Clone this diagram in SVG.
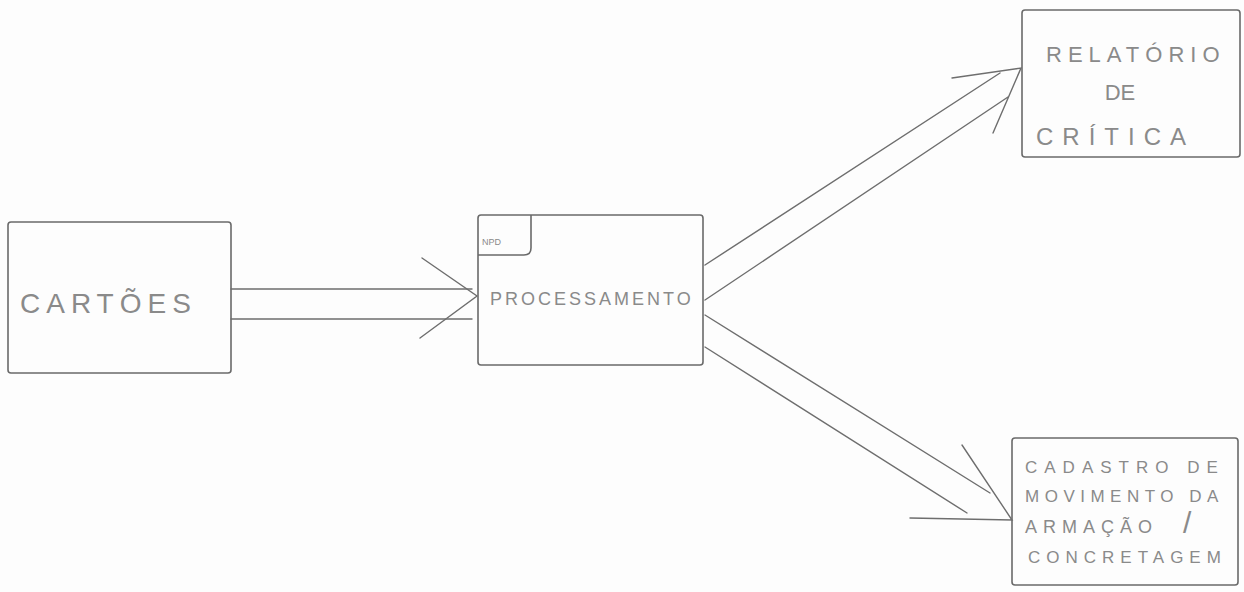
<svg xmlns="http://www.w3.org/2000/svg" width="1244" height="592" viewBox="0 0 1244 592">
<style>
.box{fill:none;stroke:#6a6a6a;stroke-width:1.6;}
.ln{fill:none;stroke:#6e6e6e;stroke-width:1.4;stroke-linecap:round;}
.t{font-family:"Liberation Sans",Arial,sans-serif;fill:#8a8a8a;font-weight:normal;}
</style>
<rect width="1244" height="592" fill="#fdfdfd"/>
<g id="cartoes">
<rect class="box" x="8" y="222" width="223" height="151" rx="3"/>
<text class="t" x="20" y="313" font-size="28" letter-spacing="6">CARTÕES</text>
</g>
<g id="processamento">
<rect class="box" x="478" y="215" width="225" height="150" rx="3"/>
<path class="box" d="M478 255 H524 Q531 255 531 248 V215"/>
<text class="t" x="482" y="245" font-size="9">NPD</text>
<text class="t" x="490" y="305" font-size="18" letter-spacing="3">PROCESSAMENTO</text>
</g>
<g id="relatorio">
<rect class="box" x="1022" y="10" width="218" height="147" rx="3"/>
<text class="t" x="1046" y="62" font-size="22" letter-spacing="6">RELATÓRIO</text>
<text class="t" x="1120" y="100" font-size="22" text-anchor="middle">DE</text>
<text class="t" x="1036" y="145" font-size="24" letter-spacing="9">CRÍTICA</text>
</g>
<g id="cadastro">
<rect class="box" x="1012" y="438" width="226" height="147" rx="3"/>
<text class="t" x="1025" y="473" font-size="17" letter-spacing="7">CADASTRO DE</text>
<text class="t" x="1025" y="502" font-size="17" letter-spacing="5.5">MOVIMENTO DA</text>
<text class="t" x="1025" y="533" font-size="18" letter-spacing="6">ARMAÇÃO <tspan font-size="30" dx="14">/</tspan></text>
<text class="t" x="1028" y="563" font-size="17" letter-spacing="6">CONCRETAGEM</text>
</g>
<g id="connectors">
<line class="ln" x1="231" y1="289" x2="472" y2="289"/>
<line class="ln" x1="231" y1="319" x2="472" y2="319"/>
<polyline class="ln" points="422,258 477,296 420,338"/>
<line class="ln" x1="705" y1="265" x2="1000" y2="73"/>
<line class="ln" x1="705" y1="300" x2="1008" y2="97"/>
<polyline class="ln" points="952,78 1021,68 993,133"/>
<line class="ln" x1="705" y1="315" x2="990" y2="493"/>
<line class="ln" x1="705" y1="347" x2="967" y2="513"/>
<polyline class="ln" points="962,445 1012,520 910,518"/>
</g>
</svg>
